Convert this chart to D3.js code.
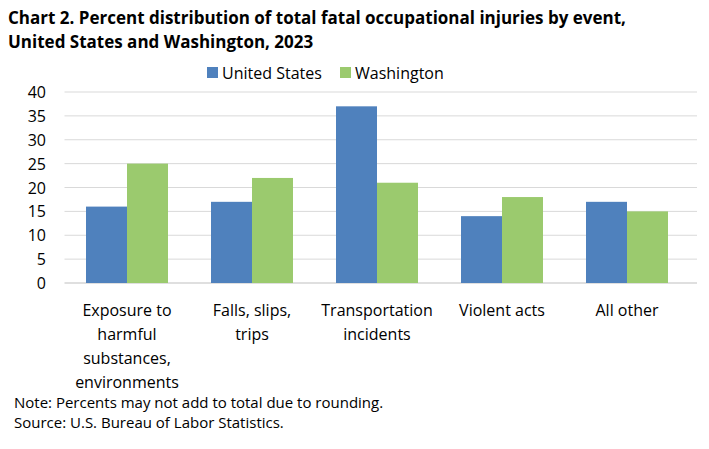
<!DOCTYPE html>
<html><head><meta charset="utf-8">
<script src="https://cdn.jsdelivr.net/npm/d3@7"></script>
<style>body{margin:0;background:#fff;font-family:"Open Sans",sans-serif;}</style>
</head><body><svg id="c" width="709" height="449"></svg>
<script>
const categories=[["Exposure to","harmful","substances,","environments"],["Falls, slips,","trips"],["Transportation","incidents"],["Violent acts"],["All other"]];
const seriesNames=["United States","Washington"];
const usValues=[16,17,37,14,17];
const waValues=[25,22,21,18,15];
const colors=["#4f81bd","#9bca6e"];
const yTicks=[0,5,10,15,20,25,30,35,40];

const svg=d3.select("#c");
const L=64.5,R=689.5,T=92,B=283;
const x=d3.scaleBand().domain(d3.range(5)).range([L,R]);
const y=d3.scaleLinear().domain([0,40]).range([B,T]);
svg.append("text").attr("x",8).attr("y",24).attr("font-size",17).attr("font-weight","bold").text("Chart 2. Percent distribution of total fatal occupational injuries by event,");
svg.append("text").attr("x",8).attr("y",48).attr("font-size",17).attr("font-weight","bold").text("United States and Washington, 2023");
svg.append("g").selectAll("line").data(yTicks).join("line").attr("x1",L).attr("x2",697).attr("y1",d=>y(d)).attr("y2",d=>y(d)).attr("stroke",d=>d===0?"#bfbfbf":"#d9d9d9");
svg.append("g").selectAll("text").data(yTicks).join("text").attr("x",46).attr("y",d=>y(d)+6).attr("text-anchor","end").attr("font-size",16).text(d=>d);
const bw=41;
[usValues,waValues].forEach((vals,s)=>{
 svg.append("g").selectAll("rect").data(vals).join("rect")
  .attr("x",(d,i)=>x(i)+x.bandwidth()/2-bw+s*bw).attr("width",bw)
  .attr("y",d=>y(d)).attr("height",d=>B-y(d)).attr("fill",colors[s]);
});
categories.forEach((lines,i)=>{
 lines.forEach((t,j)=>svg.append("text").attr("x",x(i)+x.bandwidth()/2).attr("y",316+j*24).attr("text-anchor","middle").attr("font-size",16).text(t));
});
const lg=[[207,"United States"],[340,"Washington"]];
lg.forEach((l,i)=>{
 svg.append("rect").attr("x",l[0]).attr("y",67).attr("width",11).attr("height",11).attr("fill",colors[i]);
 svg.append("text").attr("x",l[0]+15).attr("y",79).attr("font-size",16).text(seriesNames[i]);
});
svg.append("text").attr("x",14).attr("y",408).attr("font-size",15).text("Note: Percents may not add to total due to rounding.");
svg.append("text").attr("x",14).attr("y",428).attr("font-size",15).text("Source: U.S. Bureau of Labor Statistics.");
</script></body></html>
